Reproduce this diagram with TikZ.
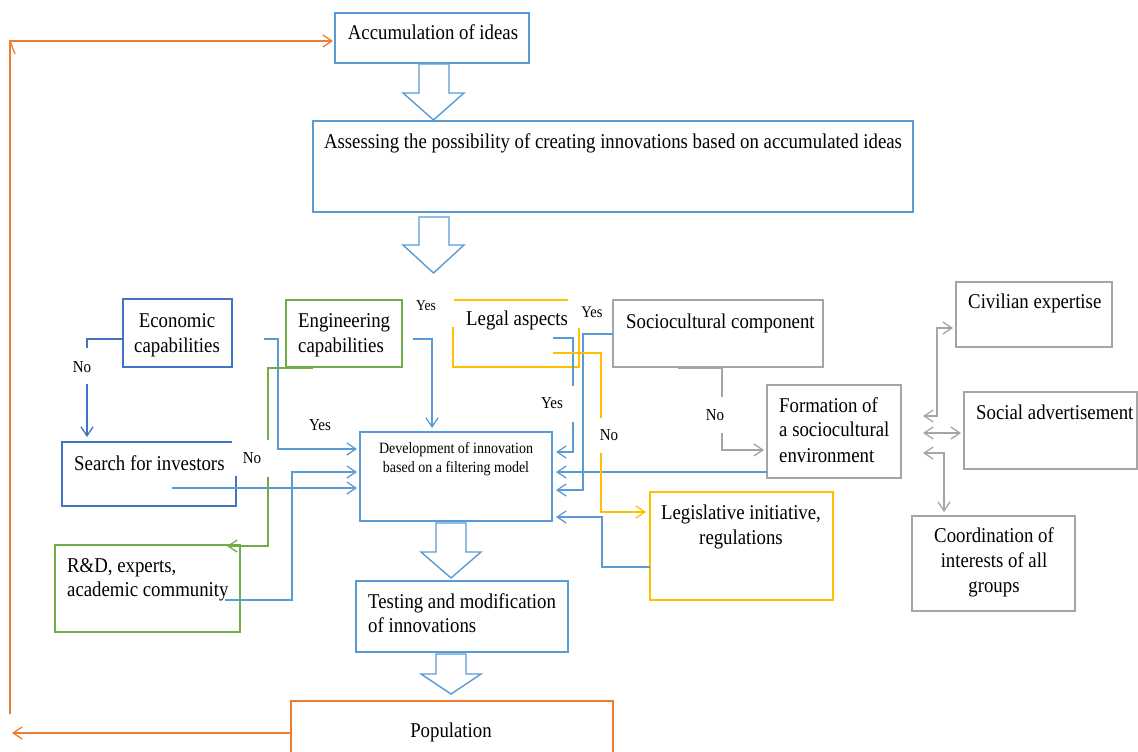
\documentclass[tikz,border=0pt]{standalone}
\usepackage{fontspec}
\usepackage{graphicx}
\setmainfont{Liberation Serif}
\usetikzlibrary{arrows.meta}
\definecolor{lblue}{HTML}{5B9BD5}
\definecolor{dblue}{HTML}{4472C4}
\definecolor{lgreen}{HTML}{70AD47}
\definecolor{lyellow}{HTML}{FFC000}
\definecolor{lgray}{HTML}{A5A5A5}
\definecolor{lorange}{HTML}{ED7D31}
\newcommand{\tallt}[1]{\scalebox{1}[1.12]{#1}}
\begin{document}
\begin{tikzpicture}[x=1pt,y=-1pt,
  box/.style={draw,line width=1.5pt,inner sep=0pt,outer sep=0pt,anchor=north west},
  txt/.style={inner sep=0pt,font=\fontsize{18.8}{25}\selectfont},
  smalltxt/.style={inner sep=0pt,font=\fontsize{14}{19}\selectfont},
  lab/.style={inner sep=0pt,font=\fontsize{15}{18}\selectfont},
  conn/.style={line width=1.3pt},
  myarrow/.style={-{Straight Barb[length=9pt,width=12pt]}},
  bothway/.style={{Straight Barb[length=9pt,width=12pt]}-{Straight Barb[length=9pt,width=12pt]}},
  block/.style={draw=lblue,fill=white,line width=1.4pt,line join=miter},
]
\useasboundingbox (0,0) rectangle (1138,752);
\clip (0,0) rectangle (1138,752);

% ---------- boxes ----------
\node[box,draw=lblue,minimum width=194pt,minimum height=50pt] (acc) at (335,13) {};
\node[box,draw=lblue,minimum width=600pt,minimum height=91pt] (assess) at (313,121) {};
\node[box,draw=dblue,minimum width=109pt,minimum height=68pt] (econ) at (123,299) {};
\node[box,draw=lgreen,minimum width=116pt,minimum height=67pt] (eng) at (286,300) {};
\node[box,draw=none,minimum width=126pt,minimum height=67pt] (legal) at (453,300) {};
\draw[lyellow,line width=1.5pt] (454,300) -- (568,300);
\draw[lyellow,line width=1.5pt] (453,327) -- (453,367) -- (579,367) -- (579,328);
\node[box,draw=lgray,minimum width=210pt,minimum height=67pt] (socio) at (613,300) {};
\node[box,draw=lgray,minimum width=156pt,minimum height=65pt] (civil) at (956,282) {};
\node[box,draw=lgray,minimum width=134pt,minimum height=93pt] (form) at (767,385) {};
\node[box,draw=lgray,minimum width=173pt,minimum height=77pt] (social) at (964,392) {};
\node[box,draw=lgray,minimum width=163pt,minimum height=95pt] (coord) at (912,516) {};
\node[box,draw=none,minimum width=174pt,minimum height=64pt] (search) at (62,442) {};
\draw[dblue,line width=1.5pt] (232,442) -- (62,442) -- (62,506) -- (236,506) -- (236,476);
\node[box,draw=lgreen,minimum width=185pt,minimum height=87pt] (rd) at (55,545) {};
\node[box,draw=lblue,minimum width=192pt,minimum height=89pt] (dev) at (360,432) {};
\node[box,draw=lyellow,minimum width=183pt,minimum height=108pt] (legis) at (650,492) {};
\node[box,draw=lblue,minimum width=212pt,minimum height=71pt] (test) at (356,581) {};
\node[box,draw=lorange,minimum width=322pt,minimum height=70pt] (pop) at (291,701) {};

% ---------- texts ----------
\node[txt,anchor=base] (acc-t) at (433,40) {\tallt{Accumulation of ideas}};
\node[txt,anchor=base] (assess-t) at (613,148) {\tallt{Assessing the possibility of creating innovations based on accumulated ideas}};
\node[txt,anchor=base] (econ-t1) at (177,327) {\tallt{Economic}};
\node[txt,anchor=base] (econ-t2) at (177,352) {\tallt{capabilities}};
\node[txt,anchor=base west] (eng-t1) at (298,327) {\tallt{Engineering}};
\node[txt,anchor=base west] (eng-t2) at (298,352) {\tallt{capabilities}};
\node[txt,anchor=base west] (legal-t) at (466,325) {\tallt{Legal aspects}};
\node[txt,anchor=base west] (socio-t) at (626,328) {\tallt{Sociocultural component}};
\node[txt,anchor=base west] (civil-t) at (968,308) {\tallt{Civilian expertise}};
\node[txt,anchor=base west] (form-t1) at (779,412) {\tallt{Formation of}};
\node[txt,anchor=base west] (form-t2) at (779,436) {\tallt{a sociocultural}};
\node[txt,anchor=base west] (form-t3) at (779,462) {\tallt{environment}};
\node[txt,anchor=base west] (social-t) at (976,419) {\tallt{Social advertisement}};
\node[txt,anchor=base west] (search-t) at (74,470) {\tallt{Search for investors}};
\node[smalltxt,anchor=base] (dev-t1) at (456,453) {\tallt{Development of innovation}};
\node[smalltxt,anchor=base] (dev-t2) at (456,472) {\tallt{based on a filtering model}};
\node[txt,anchor=base] (legis-t1) at (741,519) {\tallt{Legislative initiative,}};
\node[txt,anchor=base] (legis-t2) at (741,544) {\tallt{regulations}};
\node[txt,anchor=base] (coord-t1) at (994,542) {\tallt{Coordination of}};
\node[txt,anchor=base] (coord-t2) at (994,567) {\tallt{interests of all}};
\node[txt,anchor=base] (coord-t3) at (994,592) {\tallt{groups}};
\node[txt,anchor=base west] (rd-t1) at (67,572) {\tallt{R\&D, experts,}};
\node[txt,anchor=base west] (rd-t2) at (67,596) {\tallt{academic community}};
\node[txt,anchor=base west] (test-t1) at (368,608) {\tallt{Testing and modification}};
\node[txt,anchor=base west] (test-t2) at (368,632) {\tallt{of innovations}};
\node[txt,anchor=base] (pop-t) at (451,737) {\tallt{Population}};

% ---------- labels ----------
\node[lab] (no1) at (82,367) {\tallt{No}};
\node[lab] (no2) at (252,458) {\tallt{No}};
\node[lab] (yes1) at (320,425) {\tallt{Yes}};
\node[lab,font=\fontsize{13.5}{15}\selectfont] (yes2) at (426,306) {\tallt{Yes}};
\node[lab] (yes3) at (552,403) {\tallt{Yes}};
\node[lab,font=\fontsize{14.5}{16}\selectfont] (yes4) at (592,312) {\tallt{Yes}};
\node[lab] (no3) at (609,435) {\tallt{No}};
\node[lab] (no4) at (715,415) {\tallt{No}};

% ---------- block arrows ----------
\draw[block] (419,64) -- (449,64) -- (449,93) -- (464,93) -- (433.5,120) -- (403,93) -- (419,93) -- cycle;
\draw[block] (419,217) -- (449,217) -- (449,245) -- (464,245) -- (433.5,273) -- (403,245) -- (419,245) -- cycle;
\draw[block] (436,523) -- (466,523) -- (466,552) -- (481,552) -- (451,578) -- (421,552) -- (436,552) -- cycle;
\draw[block] (436,654) -- (466,654) -- (466,674) -- (481,674) -- (451,694) -- (421,674) -- (436,674) -- cycle;

% ---------- connector end points ----------
\coordinate (e1a) at (123,339); \coordinate (e1b) at (87,348);
\coordinate (e1c) at (87,384);  \coordinate (e1d) at (87,437);
\coordinate (e2a) at (264,339); \coordinate (e2b) at (357,449);
\coordinate (s1a) at (172,488); \coordinate (s1b) at (357,488);
\coordinate (r1a) at (225,600); \coordinate (r1b) at (357,472);
\coordinate (g1a) at (313,368); \coordinate (g1b) at (268,440);
\coordinate (g1c) at (268,477); \coordinate (g1d) at (227,546);
\coordinate (g2a) at (413,339); \coordinate (g2b) at (432,428);
\coordinate (l1a) at (553,338); \coordinate (l1b) at (573,386);
\coordinate (l1c) at (573,422); \coordinate (l1d) at (556,452);
\coordinate (k1a) at (613,334); \coordinate (k1b) at (556,490);
\coordinate (f1a) at (767,472); \coordinate (f1b) at (556,472);
\coordinate (q1a) at (650,567); \coordinate (q1b) at (556,517);
\coordinate (y1a) at (553,353); \coordinate (y1b) at (601,418);
\coordinate (y1c) at (601,453); \coordinate (y1d) at (646,512);
\coordinate (h1a) at (678,368); \coordinate (h1b) at (722,397);
\coordinate (h1c) at (722,433); \coordinate (h1d) at (764,450);
\coordinate (c1a) at (923,416); \coordinate (c1b) at (953,328);
\coordinate (c2a) at (923,433); \coordinate (c2b) at (961,433);
\coordinate (c3a) at (923,453); \coordinate (c3b) at (944,512);
\coordinate (o1a) at (291,733); \coordinate (o1b) at (12,733);
\coordinate (o2a) at (10,714);  \coordinate (o2b) at (333,41);

% ---------- connectors ----------
\draw[conn,dblue] (e1a) -| (e1b);
\draw[conn,dblue,myarrow] (e1c) -- (e1d);
\draw[conn,lblue,myarrow] (e2a) -- (278,339) |- (e2b);
\draw[conn,lblue,myarrow] (s1a) -- (s1b);
\draw[conn,lblue,myarrow] (r1a) -- (292,600) |- (r1b);
\draw[conn,lgreen] (g1a) -| (g1b);
\draw[conn,lgreen,myarrow] (g1c) |- (g1d);
\draw[conn,lblue,myarrow] (g2a) -| (g2b);
\draw[conn,lblue] (l1a) -| (l1b);
\draw[conn,lblue,myarrow] (l1c) |- (l1d);
\draw[conn,lblue,myarrow] (k1a) -| (583,490) -- (k1b);
\draw[conn,lblue,myarrow] (f1a) -- (f1b);
\draw[conn,lblue,myarrow] (q1a) -| (602,517) -- (q1b);
\draw[conn,lyellow] (y1a) -| (y1b);
\draw[conn,lyellow,myarrow] (y1c) |- (y1d);
\draw[conn,lgray] (h1a) -| (h1b);
\draw[conn,lgray,myarrow] (h1c) |- (h1d);
\draw[conn,lgray,bothway] (c1a) -| (937,328) -- (c1b);
\draw[conn,lgray,bothway] (c2a) -- (c2b);
\draw[conn,lgray,bothway] (c3a) -| (c3b);
\draw[conn,lorange,myarrow] (o1a) -- (o1b);
\draw[conn,lorange,myarrow] (o2a) -- (10,41) -- (o2b);
\draw[conn,lorange] (10,41) -- (15,54);
\end{tikzpicture}
\end{document}
